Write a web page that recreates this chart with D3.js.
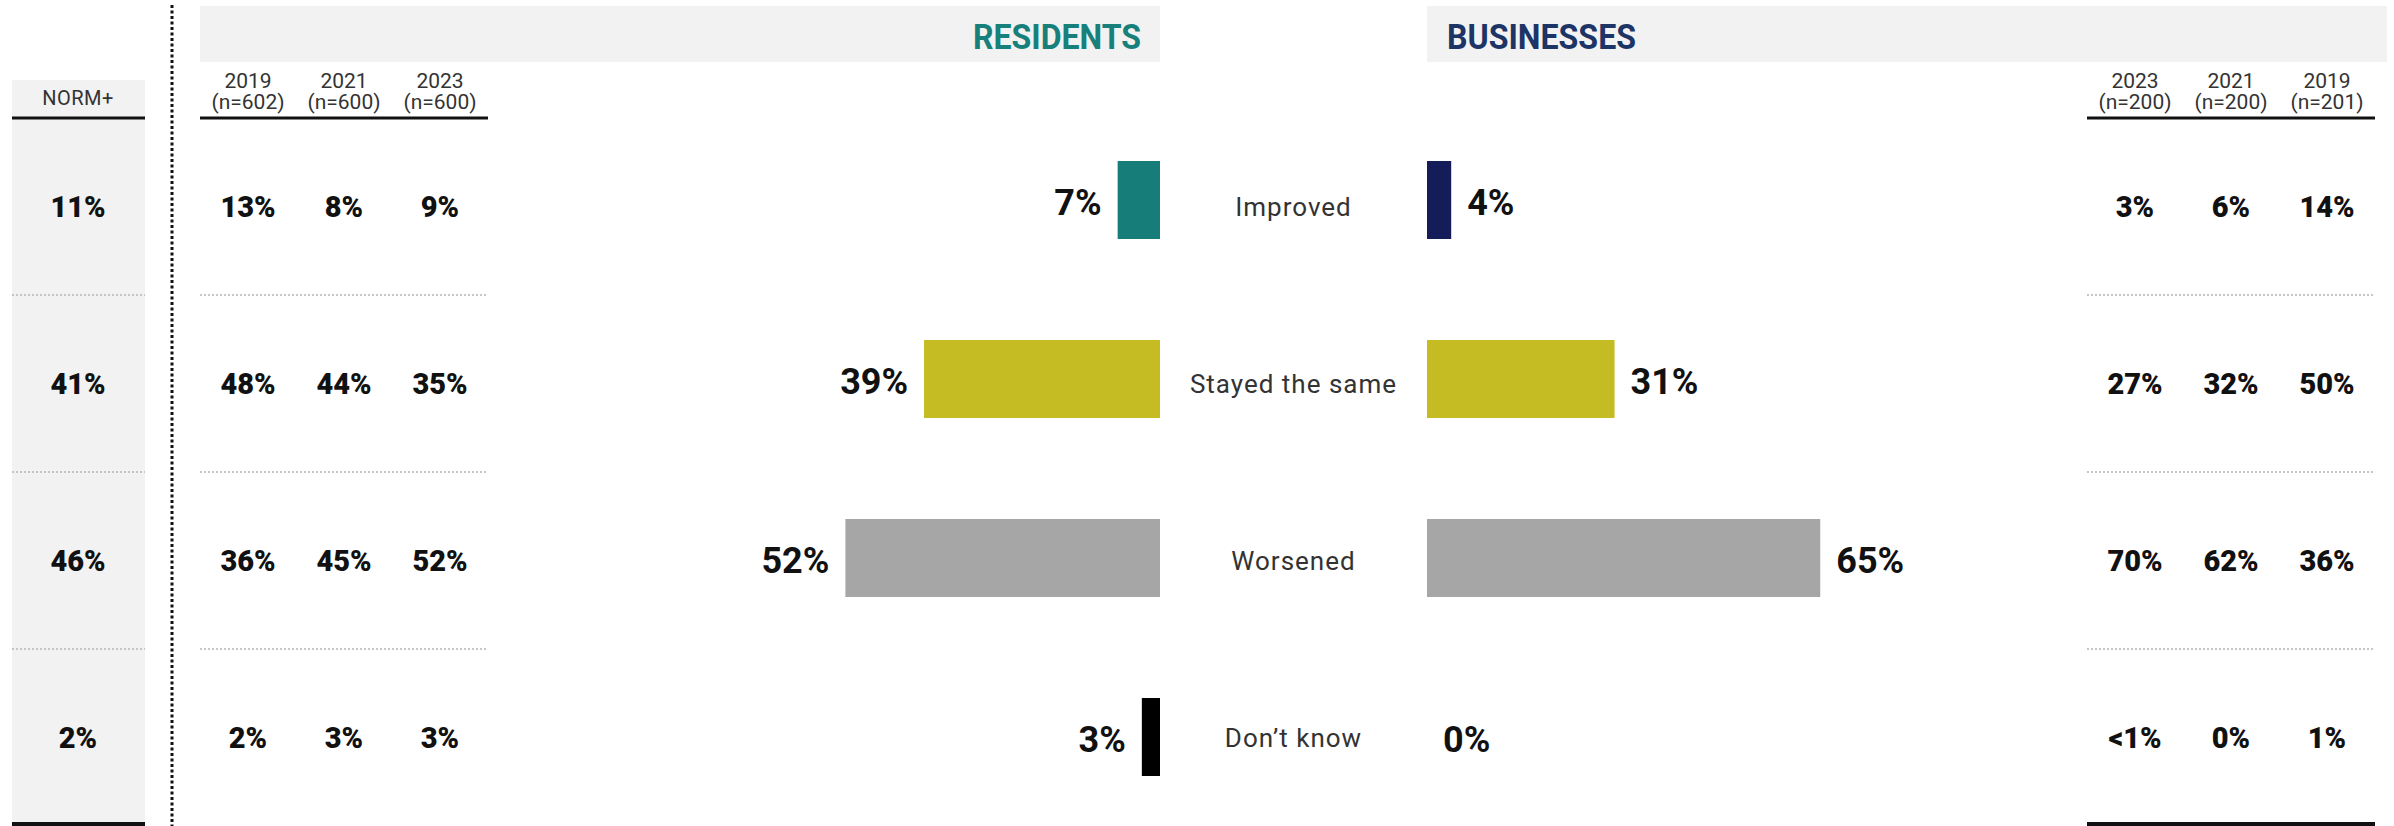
<!DOCTYPE html>
<html>
<head>
<meta charset="utf-8">
<script src="https://cdn.jsdelivr.net/npm/d3@7/dist/d3.min.js"></script>
<style>
  html, body { margin: 0; padding: 0; background: #ffffff; }
  svg { display: block; font-family: "Roboto", "Noto Sans", sans-serif; }
</style>
</head>
<body>
<svg id="chart" width="2394" height="826"></svg>
<script>
// Answer categories (rows)
const categories = ["Improved", "Stayed the same", "Worsened", "Don’t know"];

// Norm column
const normLabel = "NORM+";
const normValues = ["11%", "41%", "46%", "2%"];

// Residents trend table
const residentYears = ["2019", "2021", "2023"];
const residentBases = ["(n=602)", "(n=600)", "(n=600)"];
const residents2019 = ["13%", "48%", "36%", "2%"];
const residents2021 = ["8%", "44%", "45%", "3%"];
const residents2023 = ["9%", "35%", "52%", "3%"];

// Businesses trend table
const businessYears = ["2023", "2021", "2019"];
const businessBases = ["(n=200)", "(n=200)", "(n=201)"];
const business2023 = ["3%", "27%", "70%", "<1%"];
const business2021 = ["6%", "32%", "62%", "0%"];
const business2019 = ["14%", "50%", "36%", "1%"];

// Current-wave bars
const residentsCurrent = [7, 39, 52, 3];
const businessCurrent = [4, 31, 65, 0];

const residentColors = ["#177d78", "#c4bc22", "#a6a6a6", "#000000"];
const businessColors = ["#141c5a", "#c4bc22", "#a6a6a6", "#000000"];

const svg = d3.select("#chart");
const FONT = "Roboto, 'Noto Sans', sans-serif";

// Layout
const headerLineY = 118;
const bottomY = 826;
const resZero = 1160;
const busZero = 1427;

// Row scale for the tables
const yRow = d3.scaleBand().domain(categories).range([headerLineY, bottomY]);
const rowMid = c => yRow(c) + yRow.bandwidth() / 2;
// Row scale for the bars
const yBar = d3.scaleBand().domain(categories).range([110.5, 826.5]);
const barMid = c => yBar(c) + yBar.bandwidth() / 2;
const barH = 78;

// Bar length scale (percent -> px)
const xLen = d3.scaleLinear().domain([0, 100]).range([0, 605]);

// Column positions
const xRes = d3.scalePoint().domain(residentYears).range([248, 440]);
const xBus = d3.scalePoint().domain(businessYears).range([2135, 2327]);

// ---------- Backgrounds ----------
svg.append("rect").attr("x", 12).attr("y", 80).attr("width", 133).attr("height", bottomY - 80).attr("fill", "#f2f2f2");
svg.append("rect").attr("x", 200).attr("y", 6).attr("width", resZero - 200).attr("height", 56).attr("fill", "#f2f2f2");
svg.append("rect").attr("x", busZero).attr("y", 6).attr("width", 2387 - busZero).attr("height", 56).attr("fill", "#f2f2f2");

// Group titles
svg.append("text").attr("x", 1141).attr("y", 49).attr("text-anchor", "end")
  .attr("font-family", FONT).attr("font-weight", 700).attr("font-size", 35)
  .attr("textLength", 168).attr("lengthAdjust", "spacingAndGlyphs")
  .attr("fill", "#17807a").text("RESIDENTS");
svg.append("text").attr("x", 1447).attr("y", 49).attr("text-anchor", "start")
  .attr("font-family", FONT).attr("font-weight", 700).attr("font-size", 35)
  .attr("textLength", 189).attr("lengthAdjust", "spacingAndGlyphs")
  .attr("fill", "#1d3466").text("BUSINESSES");

// Vertical dotted divider
svg.append("line").attr("x1", 172).attr("x2", 172).attr("y1", 5).attr("y2", bottomY)
  .attr("stroke", "#111").attr("stroke-width", 3).attr("stroke-dasharray", "3,2.5");

// ---------- Table headers ----------
svg.append("text").attr("x", 78).attr("y", 98).attr("dy", "0.35em").attr("text-anchor", "middle")
  .attr("font-family", FONT).attr("font-size", 20).attr("letter-spacing", 0.5).attr("fill", "#333").text(normLabel);

function headerCols(xs, years, bases) {
  years.forEach((yr, i) => {
    svg.append("text").attr("x", xs(yr)).attr("y", 81).attr("dy", "0.35em").attr("text-anchor", "middle")
      .attr("font-family", FONT).attr("font-size", 21).attr("fill", "#333").text(yr);
    svg.append("text").attr("x", xs(yr)).attr("y", 102).attr("dy", "0.35em").attr("text-anchor", "middle")
      .attr("font-family", FONT).attr("font-size", 21).attr("fill", "#333").text(bases[i]);
  });
}
headerCols(xRes, residentYears, residentBases);
headerCols(xBus, businessYears, businessBases);

// Header rules and bottom rules
const spans = [[12, 145], [200, 488], [2087, 2375]];
spans.forEach(([a, b]) => {
  svg.append("line").attr("x1", a).attr("x2", b).attr("y1", headerLineY).attr("y2", headerLineY)
    .attr("stroke", "#111").attr("stroke-width", 3);
});
[[12, 145], [2087, 2375]].forEach(([a, b]) => {
  svg.append("line").attr("x1", a).attr("x2", b).attr("y1", 824).attr("y2", 824)
    .attr("stroke", "#111").attr("stroke-width", 4);
});

// Dotted row separators
categories.slice(1).forEach(c => {
  const y = yRow(c);
  spans.forEach(([a, b]) => {
    svg.append("line").attr("x1", a).attr("x2", b).attr("y1", y).attr("y2", y)
      .attr("stroke", "#b5b5b5").attr("stroke-width", 1.5).attr("stroke-dasharray", "2,2");
  });
});

// ---------- Table values ----------
function valueText(x, c, t) {
  svg.append("text").attr("x", x).attr("y", rowMid(c)).attr("dy", "0.35em").attr("text-anchor", "middle")
    .attr("font-family", FONT).attr("font-weight", 900).attr("font-size", 29).attr("fill", "#111").text(t);
}
categories.forEach((c, i) => {
  valueText(78, c, normValues[i]);
  valueText(xRes("2019"), c, residents2019[i]);
  valueText(xRes("2021"), c, residents2021[i]);
  valueText(xRes("2023"), c, residents2023[i]);
  valueText(xBus("2023"), c, business2023[i]);
  valueText(xBus("2021"), c, business2021[i]);
  valueText(xBus("2019"), c, business2019[i]);
});

// ---------- Bars ----------
const gRes = svg.append("g");
gRes.selectAll("rect").data(categories).join("rect")
  .attr("x", (c, i) => resZero - xLen(residentsCurrent[i]))
  .attr("y", c => barMid(c) - barH / 2)
  .attr("width", (c, i) => xLen(residentsCurrent[i]))
  .attr("height", barH)
  .attr("fill", (c, i) => residentColors[i]);
gRes.selectAll("text").data(categories).join("text")
  .attr("x", (c, i) => resZero - xLen(residentsCurrent[i]) - 16)
  .attr("y", c => barMid(c) + 2).attr("dy", "0.35em").attr("text-anchor", "end")
  .attr("font-family", FONT).attr("font-weight", 700).attr("font-size", 36).attr("fill", "#111")
  .text((c, i) => residentsCurrent[i] + "%");

const gBus = svg.append("g");
gBus.selectAll("rect").data(categories).join("rect")
  .attr("x", busZero)
  .attr("y", c => barMid(c) - barH / 2)
  .attr("width", (c, i) => xLen(businessCurrent[i]))
  .attr("height", barH)
  .attr("fill", (c, i) => businessColors[i]);
gBus.selectAll("text").data(categories).join("text")
  .attr("x", (c, i) => busZero + xLen(businessCurrent[i]) + 16)
  .attr("y", c => barMid(c) + 2).attr("dy", "0.35em").attr("text-anchor", "start")
  .attr("font-family", FONT).attr("font-weight", 700).attr("font-size", 36).attr("fill", "#111")
  .text((c, i) => businessCurrent[i] + "%");

// Category labels between the two bar groups
svg.append("g").selectAll("text").data(categories).join("text")
  .attr("x", (resZero + busZero) / 2).attr("y", c => rowMid(c)).attr("dy", "0.35em")
  .attr("text-anchor", "middle").attr("font-family", FONT).attr("font-size", 26)
  .attr("letter-spacing", 1).attr("fill", "#333").text(c => c);
</script>
</body>
</html>
